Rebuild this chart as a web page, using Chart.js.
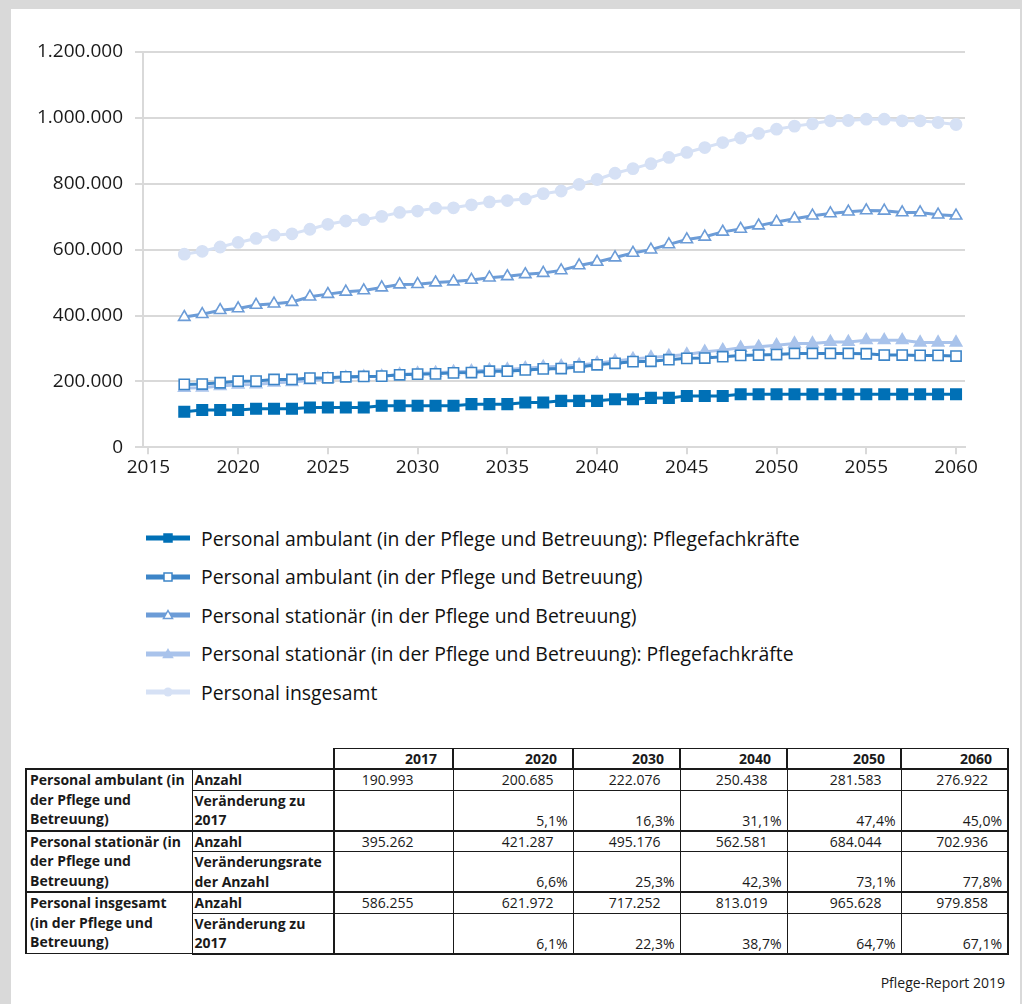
<!DOCTYPE html>
<html lang="de">

<head>
    <meta charset="UTF-8">
    <title>Personal in der Pflege</title>
    <script src="https://cdn.jsdelivr.net/npm/chart.js@4.4.1/dist/chart.umd.min.js"></script>
    <style>
        html, body { margin: 0; padding: 0; background: #fff; overflow: hidden; }
        body { font-family: "Open Sans", sans-serif; color: #1a1a1a; }
        #page { position: relative; width: 1022px; height: 1004px; }
        #frame {
            position: absolute; left: 0; top: 0; width: 1022px; height: 1020px;
            box-sizing: border-box;
            border-left: 11px solid #d9d9d9; border-top: 9px solid #d9d9d9; border-right: 2px solid #d9d9d9;
        }
        #chartBox { position: absolute; left: 0; top: 0; width: 1022px; height: 490px; }
        #legend { position: absolute; left: 146px; top: 519px; }
        .lg-row { height: 38.5px; display: flex; align-items: center; }
        .lg-row span { margin-left: 11px; font-size: 19.4px; color: #111; }
        table {
            position: absolute; left: 25px; top: 748px; width: 982px;
            border-collapse: collapse; table-layout: fixed; font-size: 14px;
        }
        td, th { border: 1px solid #1a1a1a; padding: 0; line-height: 19px; white-space: nowrap; overflow: hidden; }
        th { font-weight: bold; text-align: right; padding-right: 15px; height: 19px; border-top: 1px solid #1a1a1a; border-left: 2px solid #1a1a1a; }
        th.blank { border-top: none; border-left: none; border-right: none; }
        tr.first td { height: 17px; }
        tr.second td { height: 38px; }
        tbody tr.first td { border-top: 2px solid #1a1a1a; }
        td.grp { font-weight: bold; vertical-align: top; padding-left: 3px; border-left: 2px solid #1a1a1a; line-height: 19.5px; }
        td.kind { font-weight: bold; vertical-align: top; padding-left: 2px; line-height: 19.5px; }
        td.num { text-align: right; padding-right: 19px; vertical-align: top; }
        td.num.y0 { padding-right: 39px; }
        td.pct { text-align: right; padding-right: 5px; vertical-align: bottom; }
        td.sep { border-left: 2px solid #1a1a1a; }
        td.last { border-right: 2px solid #1a1a1a; }
        tr.end td { border-bottom: 2px solid #1a1a1a; }
        #source { position: absolute; right: 17px; top: 973px; font-size: 14px; }
    </style>
</head>

<body>
    <div id="page">
        <div id="frame"></div>
        <div id="chartBox"><canvas id="chart"></canvas></div>
        <div id="legend"></div>
        <table id="tbl"></table>
        <div id="source">Pflege-Report 2019</div>
    </div>

    <script>
        const years = [2017, 2018, 2019, 2020, 2021, 2022, 2023, 2024, 2025, 2026, 2027, 2028, 2029, 2030,
            2031, 2032, 2033, 2034, 2035, 2036, 2037, 2038, 2039, 2040, 2041, 2042, 2043, 2044, 2045,
            2046, 2047, 2048, 2049, 2050, 2051, 2052, 2053, 2054, 2055, 2056, 2057, 2058, 2059, 2060]

        const ambulantFachkraefte = [108000, 113000, 113000, 113000, 117000, 117000, 117000, 121000, 121000, 121000,
            121000, 126000, 126000, 126000, 126000, 126000, 131000, 131000, 131000, 136000,
            136000, 141000, 141000, 141000, 146000, 146000, 150000, 150000, 156000, 156000,
            156000, 161000, 161000, 161000, 161000, 161000, 161000, 161000, 161000, 161000,
            161000, 161000, 161000, 161000]

        const ambulant = [190993, 192000, 196000, 200685, 201000, 206000, 206000, 210000, 211000, 214000,
            215000, 216000, 220000, 222076, 223000, 226000, 227000, 231000, 231000, 235000,
            238000, 239000, 244000, 250438, 255000, 260000, 261000, 266000, 270000, 271000,
            275000, 279000, 280000, 281583, 285000, 285000, 285000, 285000, 284000, 280000,
            280000, 279000, 279000, 276922]

        const stationaer = [395262, 404000, 416000, 421287, 432000, 436000, 441000, 457000, 465000, 472000,
            476000, 485000, 494000, 495176, 500000, 503000, 508000, 515000, 519000, 525000,
            529000, 537000, 552000, 562581, 576000, 590000, 600000, 616000, 631000, 639000,
            654000, 663000, 673000, 684044, 694000, 703000, 710000, 715000, 719000, 718000,
            713000, 713000, 706000, 702936]

        const stationaerFachkraefte = [180000, 181000, 186000, 190000, 191000, 196000, 198000, 203000, 208000, 212000,
            214000, 216000, 221000, 224000, 226000, 229000, 231000, 235000, 236000, 240000,
            244000, 246000, 250000, 255000, 262000, 268000, 273000, 277000, 282000, 290000,
            295000, 302000, 305000, 310000, 315000, 315000, 320000, 320000, 325000, 325000,
            325000, 318000, 318000, 318000]

        const insgesamt = [586255, 595000, 608000, 621972, 634000, 644000, 648000, 662000, 677000, 687000,
            691000, 701000, 713000, 717252, 726000, 727000, 736000, 745000, 749000, 754000,
            770000, 778000, 798000, 813019, 832000, 846000, 861000, 880000, 895000, 910000,
            925000, 939000, 953000, 965628, 975000, 982000, 991000, 992000, 996000, 996000,
            991000, 991000, 986000, 979858]

        const xTicks = [2015, 2020, 2025, 2030, 2035, 2040, 2045, 2050, 2055, 2060]
        const yTicks = [0, 200000, 400000, 600000, 800000, 1000000, 1200000]

        // table under the chart
        const tableYears = ['2017', '2020', '2030', '2040', '2050', '2060']
        const tableGroups = [
            ['Personal ambulant (in', 'der Pflege und', 'Betreuung)'],
            ['Personal stationär (in', 'der Pflege und', 'Betreuung)'],
            ['Personal insgesamt', '(in der Pflege und', 'Betreuung)']
        ]
        const tableKinds = [
            ['Veränderung zu', '2017'],
            ['Veränderungsrate', 'der Anzahl'],
            ['Veränderung zu', '2017']
        ]
        const tableCounts = [
            ['190.993', '200.685', '222.076', '250.438', '281.583', '276.922'],
            ['395.262', '421.287', '495.176', '562.581', '684.044', '702.936'],
            ['586.255', '621.972', '717.252', '813.019', '965.628', '979.858']
        ]
        const tableChanges = [
            ['', '5,1%', '16,3%', '31,1%', '47,4%', '45,0%'],
            ['', '6,6%', '25,3%', '42,3%', '73,1%', '77,8%'],
            ['', '6,1%', '22,3%', '38,7%', '64,7%', '67,1%']
        ]

        const series = [
            { label: 'Personal ambulant (in der Pflege und Betreuung): Pflegefachkräfte', values: ambulantFachkraefte,
              color: '#0070b6', shape: 'rect', fill: '#0070b6', radius: 7.4 },
            { label: 'Personal ambulant (in der Pflege und Betreuung)', values: ambulant,
              color: '#3d85c8', shape: 'rect', fill: '#ffffff', radius: 7.2 },
            { label: 'Personal stationär (in der Pflege und Betreuung)', values: stationaer,
              color: '#6c9cd7', shape: 'triangle', fill: '#ffffff', radius: 6.6 },
            { label: 'Personal stationär (in der Pflege und Betreuung): Pflegefachkräfte', values: stationaerFachkraefte,
              color: '#a9c3eb', shape: 'triangle', fill: '#a9c3eb', radius: 6.6 },
            { label: 'Personal insgesamt', values: insgesamt,
              color: '#d6e1f5', shape: 'circle', fill: '#d6e1f5', radius: 5.6 }
        ]

        function formatDe(v) {
            return String(v).replace(/\B(?=(\d{3})+(?!\d))/g, '.')
        }

        Chart.defaults.font.family = '"Open Sans", sans-serif'
        Chart.defaults.color = '#1a1a1a'

        const ctx = document.getElementById('chart').getContext('2d')
        const myChart = new Chart(ctx, {
            type: 'line',
            data: {
                datasets: series.map(s => ({
                    label: s.label,
                    data: s.values.map((v, i) => ({ x: years[i], y: v })),
                    borderColor: s.color,
                    backgroundColor: s.fill,
                    borderWidth: 3,
                    pointStyle: s.shape,
                    pointRadius: s.radius,
                    pointBackgroundColor: s.fill,
                    pointBorderColor: s.color,
                    pointBorderWidth: 1.6,
                    tension: 0
                }))
            },
            options: {
                responsive: true,
                maintainAspectRatio: false,
                devicePixelRatio: 1,
                animation: false,
                layout: { padding: { left: 0, right: 57, top: 52, bottom: 0 } },
                plugins: { legend: { display: false }, tooltip: { enabled: false } },
                scales: {
                    x: {
                        type: 'linear',
                        min: 2014.7,
                        max: 2060.5,
                        afterBuildTicks: scale => { scale.ticks = xTicks.map(v => ({ value: v })) },
                        afterFit: scale => { scale.height = 42.7 },
                        ticks: { callback: v => String(v), font: { size: 19 }, padding: 2, maxRotation: 0 },
                        grid: { drawOnChartArea: false, tickLength: 7, color: '#d9d9d9', lineWidth: 2 },
                        border: { color: '#d9d9d9', width: 2 }
                    },
                    y: {
                        min: 0,
                        max: 1200000,
                        afterBuildTicks: scale => { scale.ticks = yTicks.map(v => ({ value: v })) },
                        afterFit: scale => { scale.width = 143 },
                        ticks: { callback: v => formatDe(v), font: { size: 19 }, padding: 12 },
                        grid: { tickLength: 8, color: '#d9d9d9', lineWidth: 2 },
                        border: { color: '#d9d9d9', width: 2 }
                    }
                }
            }
        })

        //legend-------------------------------------------
        function markerSvg(s) {
            let m = ''
            if (s.shape === 'rect') {
                m = `<rect x="18" y="6" width="8" height="8" fill="${s.fill}" stroke="${s.color}" stroke-width="1.5"/>`
            } else if (s.shape === 'triangle') {
                m = `<polygon points="22,5.5 26.5,13.5 17.5,13.5" fill="${s.fill}" stroke="${s.color}" stroke-width="1.5"/>`
            } else {
                m = `<circle cx="22" cy="10" r="4.5" fill="${s.fill}"/>`
            }
            return `<svg width="44" height="20"><line x1="0" y1="10" x2="44" y2="10" stroke="${s.color}" stroke-width="5" stroke-linecap="round"/>${m}</svg>`
        }

        document.getElementById('legend').innerHTML = series.map(s =>
            `<div class="lg-row">${markerSvg(s)}<span>${s.label}</span></div>`).join('')

        //table-------------------------------------------
        let html = '<colgroup><col style="width:166px"><col style="width:142px"><col style="width:119px"><col style="width:120px">'
            + '<col style="width:107px"><col style="width:107px"><col style="width:114px"><col style="width:107px"></colgroup>'
        html += '<thead><tr><th class="blank"></th><th class="blank"></th>'
        tableYears.forEach((y, i) => {
            html += `<th style="${i === tableYears.length - 1 ? 'border-right:2px solid #1a1a1a' : ''}">${y}</th>`
        })
        html += '</tr></thead><tbody>'
        tableGroups.forEach((g, r) => {
            html += `<tr class="first"><td class="grp" rowspan="2">${g.join('<br>')}</td><td class="kind">Anzahl</td>`
            tableCounts[r].forEach((c, i) => {
                html += `<td class="num${i === 0 ? ' y0 sep' : ''}${i === 5 ? ' last' : ''}">${c}</td>`
            })
            html += `</tr><tr class="second${r === tableGroups.length - 1 ? ' end' : ''}"><td class="kind">${tableKinds[r].join('<br>')}</td>`
            tableChanges[r].forEach((c, i) => {
                html += `<td class="pct${i === 0 ? ' sep' : ''}${i === 5 ? ' last' : ''}">${c}</td>`
            })
            html += '</tr>'
        })
        html += '</tbody>'
        document.getElementById('tbl').innerHTML = html
    </script>

</body>

</html>
